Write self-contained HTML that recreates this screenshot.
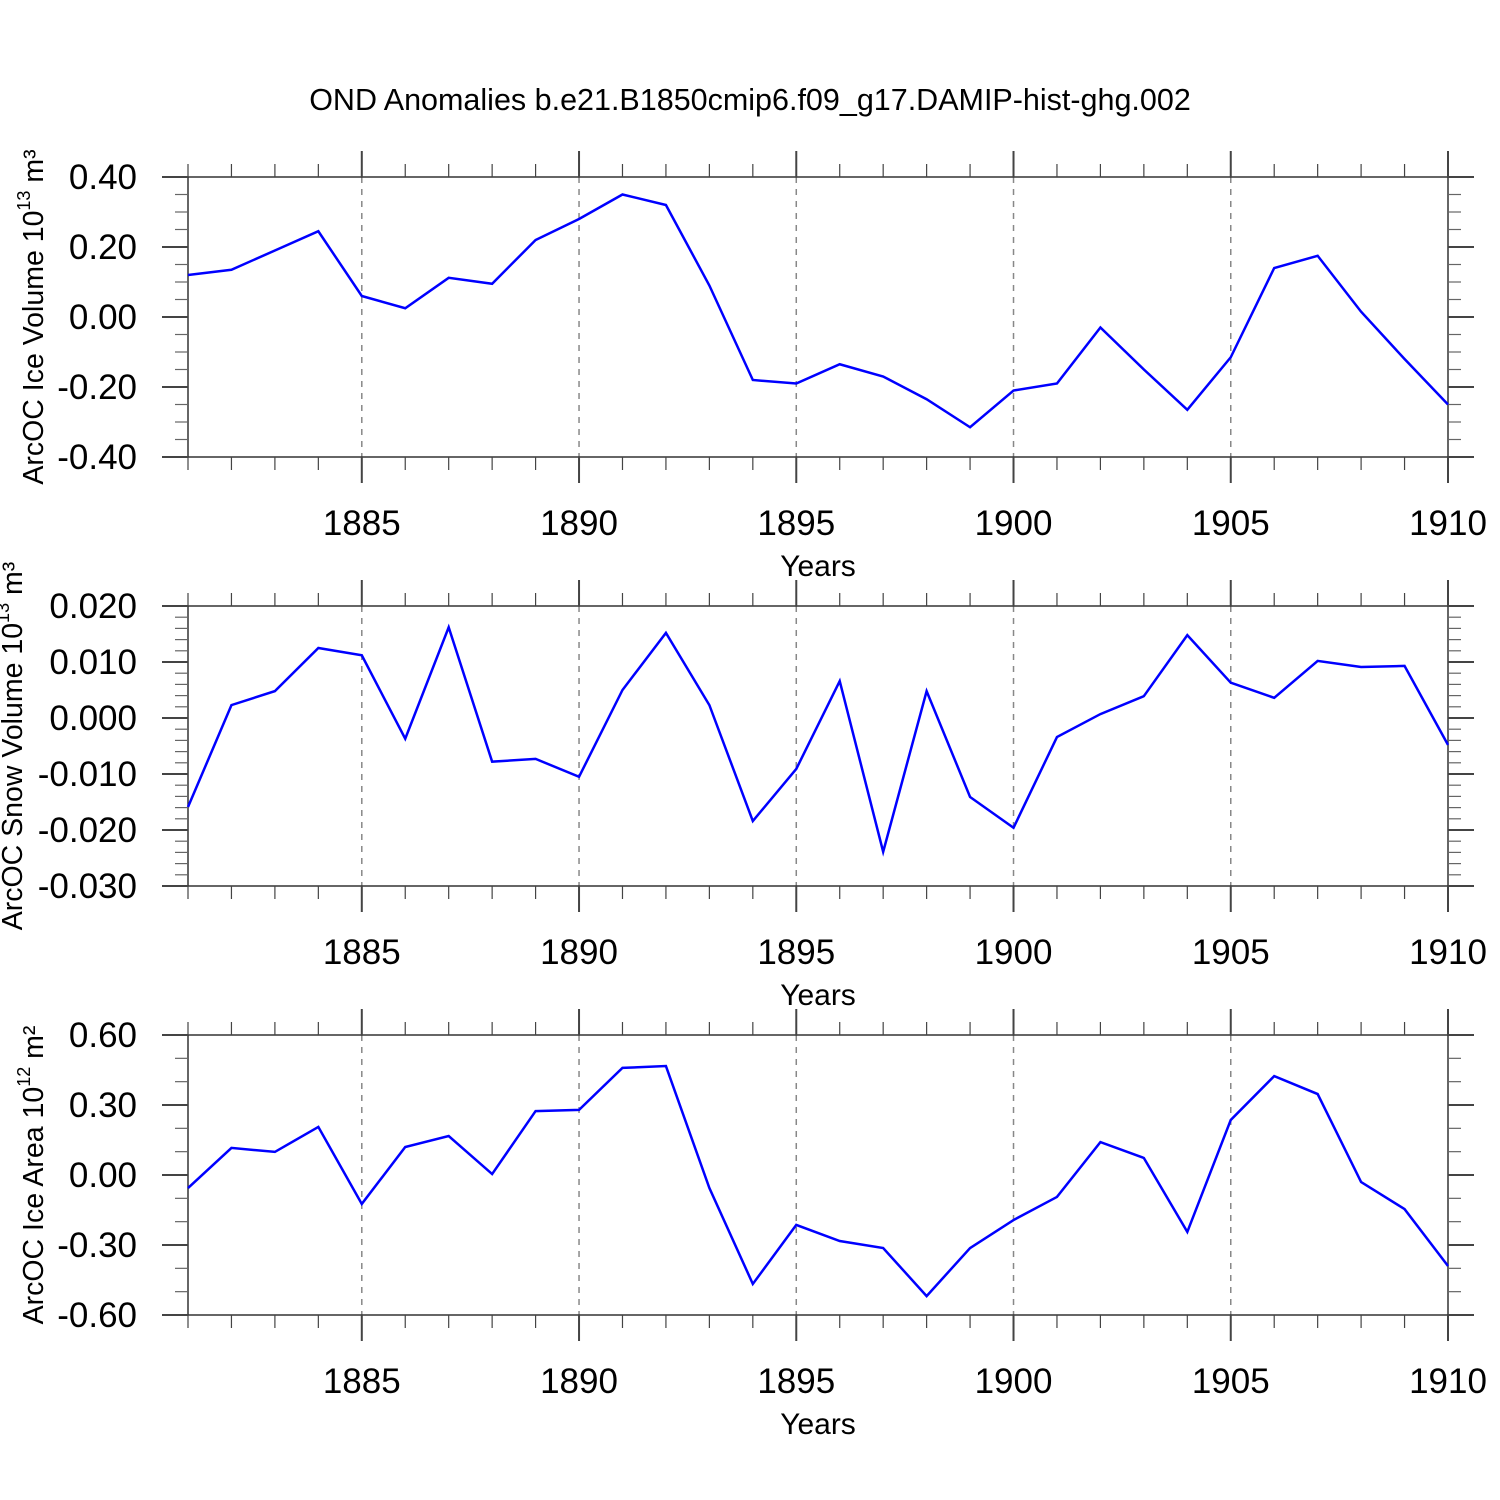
<!DOCTYPE html>
<html><head><meta charset="utf-8"><style>
body{margin:0;background:#fff}
svg{display:block;font-family:"Liberation Sans",sans-serif}
</style></head><body>
<svg id="c" width="1500" height="1500" viewBox="0 0 1500 1500">
<text x="750" y="110" font-size="30.5" text-anchor="middle">OND Anomalies b.e21.B1850cmip6.f09_g17.DAMIP-hist-ghg.002</text>
</svg>
<script>
const years=[1881,1882,1883,1884,1885,1886,1887,1888,1889,1890,1891,1892,1893,1894,1895,1896,1897,1898,1899,1900,1901,1902,1903,1904,1905,1906,1907,1908,1909,1910];
const xTicks=[1885,1890,1895,1900,1905,1910];
const iceVolume=[0.12,0.135,0.19,0.245,0.06,0.025,0.112,0.095,0.22,0.28,0.35,0.32,0.09,-0.18,-0.19,-0.135,-0.17,-0.235,-0.315,-0.21,-0.19,-0.03,-0.15,-0.265,-0.115,0.14,0.175,0.015,-0.12,-0.25];
const snowVolume=[-0.0159,0.0023,0.0048,0.0125,0.0112,-0.0037,0.0162,-0.0078,-0.0073,-0.0105,0.005,0.0152,0.0023,-0.0184,-0.0091,0.0066,-0.0239,0.0048,-0.0141,-0.0196,-0.0034,0.0007,0.0039,0.0148,0.0063,0.0036,0.0102,0.0091,0.0093,-0.0048];
const iceArea=[-0.056,0.116,0.099,0.206,-0.124,0.12,0.167,0.004,0.274,0.279,0.459,0.467,-0.056,-0.467,-0.214,-0.283,-0.313,-0.519,-0.313,-0.193,-0.094,0.141,0.073,-0.244,0.236,0.424,0.347,-0.03,-0.146,-0.39];
const iceVolTicks=[0.4,0.2,0,-0.2,-0.4];
const snowTicks=[0.02,0.01,0,-0.01,-0.02,-0.03];
const areaTicks=[0.6,0.3,0,-0.3,-0.6];

const svg=document.getElementById('c');
const NS='http://www.w3.org/2000/svg';
function mk(t,a,p){const e=document.createElementNS(NS,t);for(const k in a)e.setAttribute(k,a[k]);(p||svg).appendChild(e);return e;}
const X0=188,X1=1448;
const xs=v=>X0+(v-1881)/(1910-1881)*(X1-X0);

function panel(name,top,vals,ticks,dec,minorN,label,sup,unit,titleX){
  const bot=top+280,ymax=ticks[0],ymin=ticks[ticks.length-1];
  const ys=v=>top+(ymax-v)/(ymax-ymin)*280;
  const g=mk('g',{});
  
  
  xTicks.slice(0,5).forEach(t=>{const l=mk('line',{x1:xs(t),x2:xs(t),y1:top,y2:bot,stroke:'#888','stroke-width':1.5,'stroke-dasharray':'6,6'},g);
    });
  const f=mk('rect',{x:X0,y:top,width:X1-X0,height:280,fill:'none',stroke:'#333','stroke-width':1.5},g);
  
  years.forEach(yr=>{const maj=yr%5===0;const L=maj?26:13;const x=xs(yr);
    mk('line',{x1:x,x2:x,y1:top,y2:top-L,stroke:'#444','stroke-width':maj?2:1.2},g);
    mk('line',{x1:x,x2:x,y1:bot,y2:bot+L,stroke:'#444','stroke-width':maj?2:1.2},g);});
  xTicks.forEach(t=>{const tx=mk('text',{x:xs(t),y:bot+78,'font-size':35,'text-anchor':'middle'},g);tx.textContent=t;
    });
  const xt=mk('text',{x:818,y:bot+119,'font-size':30,'text-anchor':'middle'},g);xt.textContent='Years';
  
  for(let i=0;i<ticks.length;i++){const y=ys(ticks[i]);
    mk('line',{x1:X0,x2:X0-26,y1:y,y2:y,stroke:'#444','stroke-width':2},g);
    mk('line',{x1:X1,x2:X1+26,y1:y,y2:y,stroke:'#444','stroke-width':2},g);
    const tx=mk('text',{x:137,y:y+12,'font-size':35,'text-anchor':'end'},g);tx.textContent=ticks[i].toFixed(dec);
    
    if(i<ticks.length-1){const step=(ticks[i]-ticks[i+1])/(minorN+1);
      for(let k=1;k<=minorN;k++){const ym=ys(ticks[i]-k*step);
        mk('line',{x1:X0,x2:X0-13,y1:ym,y2:ym,stroke:'#666','stroke-width':1.2},g);
        mk('line',{x1:X1,x2:X1+13,y1:ym,y2:ym,stroke:'#666','stroke-width':1.2},g);}}}
  const yt=mk('text',{transform:`translate(${titleX},${top+140}) rotate(-90)`,'font-size':28.5,'text-anchor':'middle'},g);
  yt.innerHTML=label+' 10<tspan dy="-13" font-size="18">'+sup+'</tspan><tspan dy="13"> '+unit+'</tspan>';
  
  const p=mk('polyline',{points:vals.map((v,i)=>xs(years[i])+','+ys(v)).join(' '),fill:'none',stroke:'#0000ff','stroke-width':2.5},g);
  
}
panel('ice-volume',177,iceVolume,iceVolTicks,2,3,'ArcOC Ice Volume','13','m³',43);
panel('snow-volume',606,snowVolume,snowTicks,3,4,'ArcOC Snow Volume','13','m³',22);
panel('ice-area',1035,iceArea,areaTicks,2,2,'ArcOC Ice Area','12','m²',43);
</script>
</body></html>
